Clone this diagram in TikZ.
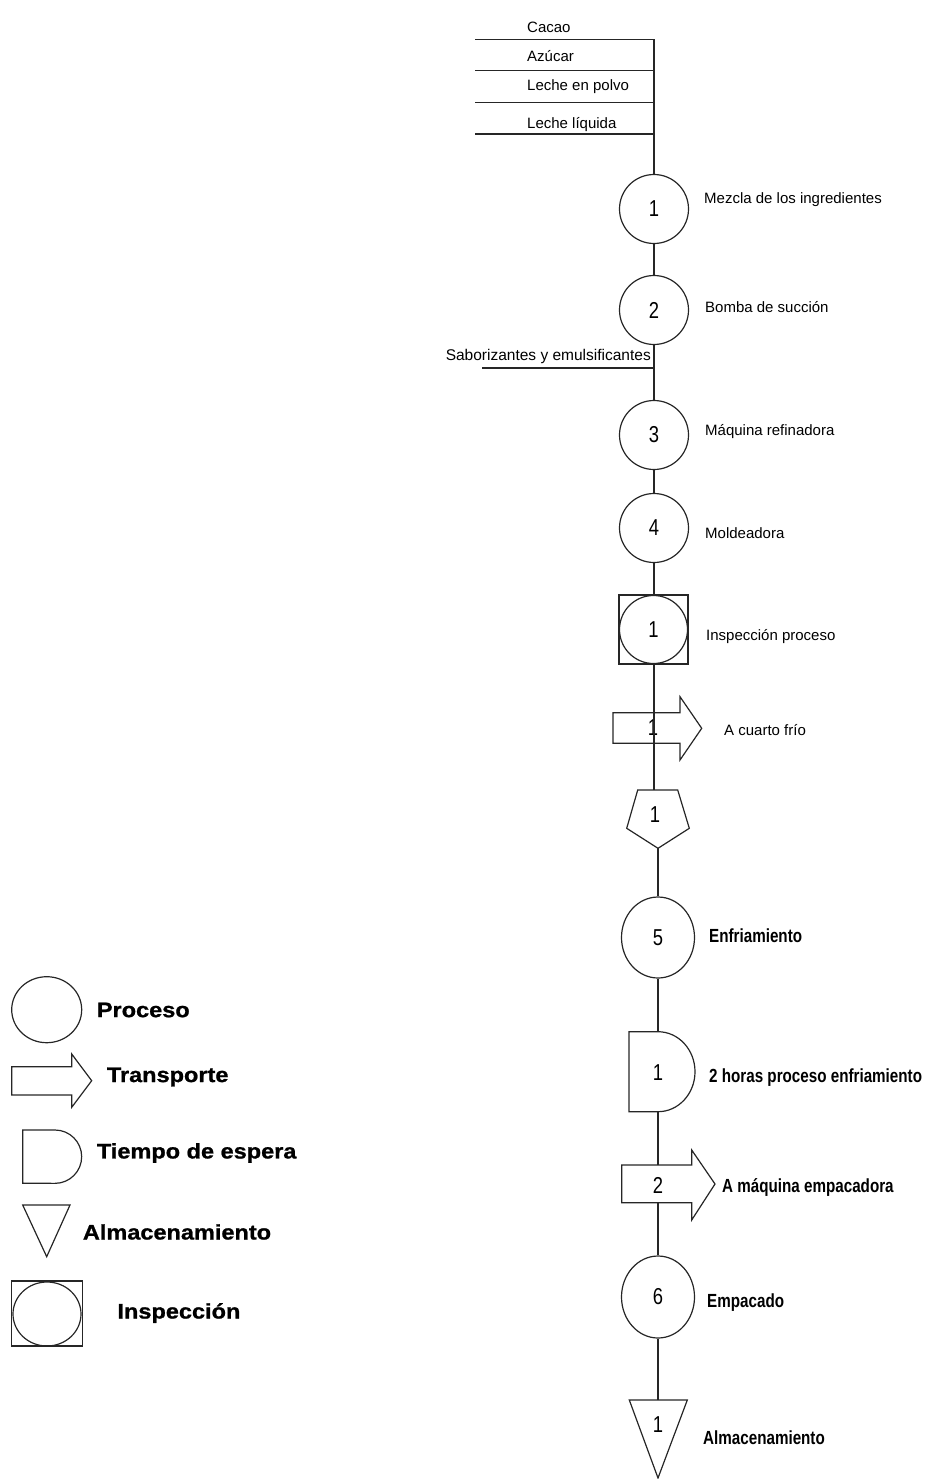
\documentclass[tikz,border=0pt]{standalone}
\usepackage{fontspec}
\setmainfont{Liberation Sans}
\newfontfamily\numfont[FakeStretch=0.8]{Liberation Sans}
\newfontfamily\boldnarrow[FakeStretch=0.8]{Liberation Sans}
\newfontfamily\legfont[FakeStretch=1.12,FakeBold=1]{Liberation Sans}
\usetikzlibrary{shapes.geometric}
\begin{document}
\begin{tikzpicture}[x=1pt,y=-1pt,
  ln/.style={line width=1.2pt, draw=black!85},
  proc/.style={ln, circle, minimum size=69pt, inner sep=0pt, font=\numfont\fontsize{23}{23}\selectfont},
  procE/.style={ln, ellipse, inner sep=0pt, font=\numfont\fontsize{23}{23}\selectfont},
  num/.style={inner sep=0pt, font=\numfont\fontsize{23}{23}\selectfont},
  lbl/.style={anchor=west, inner sep=0pt, font=\fontsize{15}{18}\selectfont},
  blbl/.style={anchor=west, inner sep=0pt, font=\boldnarrow\bfseries\fontsize{19}{22}\selectfont},
  leg/.style={anchor=west, inner sep=0pt, font=\legfont\bfseries\fontsize{21}{24}\selectfont}]
\useasboundingbox (0,0) rectangle (926,1479);

% ---------- inputs at top ----------
\coordinate (j1) at (654,39.5);  \coordinate (s1) at (475,39.5);
\coordinate (j2) at (654,70.7);  \coordinate (s2) at (475,70.7);
\coordinate (j3) at (654,102.7); \coordinate (s3) at (475,102.7);
\coordinate (j4) at (654,134);   \coordinate (s4) at (475,134);
\node[lbl] (lin1) at (527,27) {Cacao};
\node[lbl] (lin2) at (527,56) {Azúcar};
\node[lbl] (lin3) at (527,87) {Leche en polvo};
\node[lbl] (lin4) at (527,125) {Leche líquida};
\draw[ln] (s1) -- (j1);
\draw[ln] (s2) -- (j2);
\draw[ln] (s3) -- (j3);
\draw[ln] (s4) -- (j4);

% ---------- process chain ----------
\node[proc] (c1) at (654,209) {1};
\node[lbl] (l1) at (704,200) {Mezcla de los ingredientes};
\node[proc] (c2) at (654,310) {2};
\node[lbl] (l2) at (705,307) {Bomba de succión};
\coordinate (sj) at (654,368); \coordinate (sl) at (482,368);
\node[anchor=east, inner sep=0pt, font=\fontsize{15.5}{18}\selectfont] (lsab) at (651,356) {Saborizantes y emulsificantes};
\node[proc] (c3) at (654,435) {3};
\node[lbl] (l3) at (705,432) {Máquina refinadora};
\node[proc] (c4) at (654,528) {4};
\node[lbl] (l4) at (705,533) {Moldeadora};
\node[ln, draw, rectangle, minimum size=69pt, inner sep=0pt] (i1) at (653.5,629.5) {};
\node[proc, minimum size=68pt] (i1c) at (653.5,629.5) {1};
\node[lbl] (li1) at (706,637) {Inspección proceso};

% transport 1 (outline only, spine shows through)
\draw[ln] (613,712.7) -- (680,712.7) -- (680,696.7) -- (701.7,728.3) -- (680,760) -- (680,743.3) -- (613,743.3) -- cycle;
\node[num] (a1) at (653,728) {1};
\node[lbl] (la1) at (724,730) {A cuarto frío};

% pentagon
\draw[ln] (637.7,790) -- (677.7,790) -- (689.3,828.3) -- (658,848.3) -- (626.7,828.3) -- cycle;
\coordinate (p1n) at (654,790);
\coordinate (p1s) at (658,848.3);
\node[num] (p1) at (655,815) {1};

\node[procE, minimum width=73pt, minimum height=81pt] (c5) at (658,937.5) {5};
\node[blbl] (l5) at (709,936) {Enfriamiento};

% delay
\draw[ln] (629,1031.7) -- (658,1031.7) arc[start angle=-90, end angle=90, x radius=37, y radius=40] -- (629,1111.7) -- cycle;
\coordinate (d1n) at (658,1031.7);
\coordinate (d1s) at (658,1111.7);
\node[num] (d1) at (658,1073) {1};
\node[blbl] (ld1) at (709,1078) {2 horas proceso enfriamiento};

\node[procE, minimum width=73pt, minimum height=82pt] (c6) at (658,1297) {6};
\node[blbl] (l6) at (707,1303) {Empacado};

% storage
\draw[ln] (629.3,1400) -- (687.3,1400) -- (658,1478) -- cycle;
\coordinate (t1n) at (658,1400);
\node[num] (t1) at (658,1425) {1};
\node[blbl] (lt1) at (703,1438) {Almacenamiento};

% ---------- spine ----------
\draw[ln] (j1) -- (c1.north);
\draw[ln] (c1.south) -- (c2.north);
\draw[ln] (sl) -- (sj);
\draw[ln] (c2.south) -- (c3.north);
\draw[ln] (c3.south) -- (c4.north);
\draw[ln] (c4.south) -- (i1.north -| c4.south);
\draw[ln] (i1.south -| c4.south) -- (p1n);
\draw[ln] (p1s) -- (c5.north);
\draw[ln] (c5.south) -- (d1n);
\draw[ln] (d1s) -- (c6.north);
\draw[ln] (c6.south) -- (t1n);

% transport 2 (filled, hides spine)
\draw[ln, fill=white] (621.7,1165) -- (691.7,1165) -- (691.7,1150) -- (715,1184) -- (691.7,1220) -- (691.7,1202.7) -- (621.7,1202.7) -- cycle;
\node[num] (a2) at (658,1185) {2};
\node[blbl] (la2) at (722,1187) {A máquina empacadora};

% ---------- legend ----------
\node[ln, draw, ellipse, minimum width=70pt, minimum height=66pt, inner sep=0pt] (gP) at (46.7,1009.7) {};
\node[leg] (gPl) at (96.7,1010) {Proceso};
\draw[ln] (11.7,1066.7) -- (71.7,1066.7) -- (71.7,1054) -- (91.7,1080.7) -- (71.7,1107.3) -- (71.7,1095) -- (11.7,1095) -- cycle;
\node[leg] (gTl) at (106.7,1077) {Transporte};
\draw[ln] (22.7,1130) -- (55,1130) arc[start angle=-90, end angle=90, radius=26.67] -- (22.7,1183.3) -- cycle;
\node[leg] (gDl) at (96.7,1153) {Tiempo de espera};
\draw[ln] (22.7,1205) -- (70,1205) -- (46.7,1256.7) -- cycle;
\node[leg] (gAl) at (82.7,1232) {Almacenamiento};
\node[ln, draw, rectangle, minimum width=71pt, minimum height=65pt, inner sep=0pt] (gI) at (47.2,1313.4) {};
\node[ln, draw, ellipse, minimum width=68pt, minimum height=64pt, inner sep=0pt] (gIc) at (47,1314) {};
\node[leg] (gIl) at (117.3,1313) {Inspección};
\end{tikzpicture}
\end{document}
